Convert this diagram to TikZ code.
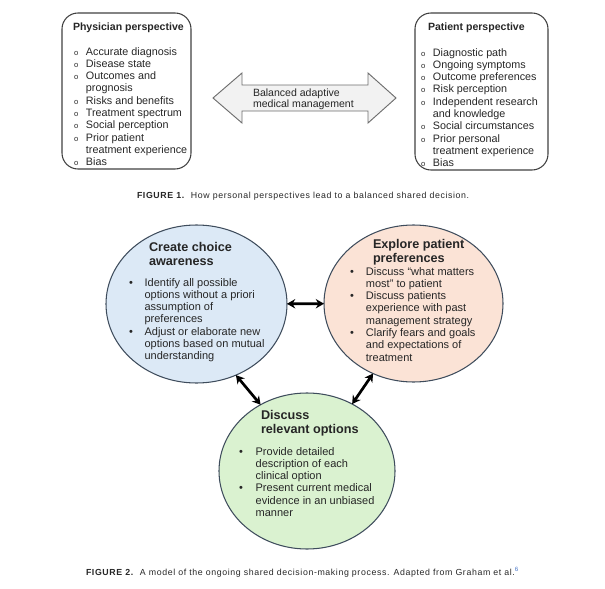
\documentclass[tikz,border=0pt]{standalone}
\usepackage{fontspec}
\setmainfont{Liberation Sans}
\newfontfamily\capfamily[LetterSpace=7]{Liberation Sans}
\usepackage{tikz}
\usetikzlibrary{arrows.meta,shapes.geometric}
\definecolor{boxline}{HTML}{404040}
\definecolor{bubbleline}{HTML}{3E4C5C}
\definecolor{awarefill}{HTML}{DCE9F6}
\definecolor{prefsfill}{HTML}{FBE3D6}
\definecolor{optsfill}{HTML}{DAF2D0}
\definecolor{arrowfill}{HTML}{F2F2F2}
\definecolor{arrowline}{HTML}{6E6E6E}
\definecolor{textdark}{HTML}{262626}
\definecolor{reflink}{HTML}{4472C4}
\newcommand{\pxu}{0.03cm}
\newcommand{\itemfont}{\fontsize{9.2}{10.5}\selectfont}
\newcommand{\bubfont}{\fontsize{9.4}{10.5}\selectfont}
\newcommand{\headfont}{\fontsize{10.8}{12.8}\selectfont\bfseries}
\newcommand{\capfont}{\capfamily\fontsize{7.5}{8}\selectfont}
\newcommand{\hollow}{{\fontsize{6.5}{6.5}\selectfont o}}

\begin{document}
\begin{tikzpicture}[x=\pxu,y=-\pxu]
\tikzstyle{every node}+=[inner sep=0pt, outer sep=0pt, text=textdark]
\tikzstyle{persp}=[draw=boxline, line width=0.9pt, rounded corners=0.48cm]
\tikzstyle{bubble}=[ellipse, draw=bubbleline, line width=0.9pt]
\tikzstyle{twoway}=[line width=2.3pt, {Stealth[length=7pt,width=8pt]}-{Stealth[length=7pt,width=8pt]}]
\useasboundingbox (0,0) rectangle (605,589);
% figure 1
\node [persp, minimum width=129*\pxu, minimum height=156*\pxu] (physbox) at (126.5,91) {};
\node [persp, minimum width=133*\pxu, minimum height=157*\pxu] (patbox) at (481.5,91.5) {};
\node [anchor=base west] (phystitle) at (73,31) {\fontsize{9}{10}\selectfont\bfseries Physician perspective};
\node [anchor=base west] (pattitle) at (428,31) {\fontsize{9}{10}\selectfont\bfseries Patient perspective};
\node [anchor=base west] (physlist) at (74,55) {\itemfont\begin{tabular}[t]{@{}p{10.2pt}@{}l@{}}
\hollow & Accurate diagnosis\\
\hollow & Disease state\\
\hollow & Outcomes and\\
 & prognosis\\
\hollow & Risks and benefits\\
\hollow & Treatment spectrum\\
\hollow & Social perception\\
\hollow & Prior patient\\
 & treatment experience\\
\hollow & Bias
\end{tabular}};
\node [anchor=base west] (patlist) at (421,56) {\itemfont\begin{tabular}[t]{@{}p{10.2pt}@{}l@{}}
\hollow & Diagnostic path\\
\hollow & Ongoing symptoms\\
\hollow & Outcome preferences\\
\hollow & Risk perception\\
\hollow & Independent research\\
 & and knowledge\\
\hollow & Social circumstances\\
\hollow & Prior personal\\
 & treatment experience\\
\hollow & Bias
\end{tabular}};
\draw [draw=arrowline, fill=arrowfill, line width=0.8pt] (213,98) -- (242,73) -- (242,85) -- (368,85) -- (368,73) -- (396,98) -- (368,123) -- (368,111) -- (242,111) -- (242,123) -- cycle;
\node [anchor=base west] (balance) at (253,96) {\fontsize{9}{9.4}\selectfont\begin{tabular}[t]{@{}l@{}}
Balanced adaptive\\
medical management
\end{tabular}};
\node [anchor=base west] (cap1) at (137,198) {\capfont\textbf{FIGURE 1.}\ \ How personal perspectives lead to a balanced shared decision.};
% figure 2
\node [bubble, fill=awarefill, minimum width=181*\pxu, minimum height=158*\pxu] (aware) at (196.5,304) {};
\node [bubble, fill=prefsfill, minimum width=179*\pxu, minimum height=157*\pxu] (prefs) at (413.5,303.5) {};
\node [bubble, fill=optsfill, minimum width=176*\pxu, minimum height=156*\pxu] (options) at (307,471) {};
\node [anchor=base west] (awarehead) at (149,251) {\headfont\begin{tabular}[t]{@{}l@{}}
Create choice\\
awareness
\end{tabular}};
\node [anchor=base west] (awarelist) at (129,286) {\bubfont\begin{tabular}[t]{@{}p{13.3pt}@{}l@{}}
\textbullet & Identify all possible\\
 & options without a priori\\
 & assumption of\\
 & preferences\\
\textbullet & Adjust or elaborate new\\
 & options based on mutual\\
 & understanding
\end{tabular}};
\node [anchor=base west] (prefshead) at (373,248) {\headfont\begin{tabular}[t]{@{}l@{}}
Explore patient\\
preferences
\end{tabular}};
\node [anchor=base west] (prefslist) at (350,275) {\bubfont\begin{tabular}[t]{@{}p{13.6pt}@{}l@{}}
\textbullet & Discuss ``what matters\\
 & most'' to patient\\
\textbullet & Discuss patients\\
 & experience with past\\
 & management strategy\\
\textbullet & Clarify fears and goals\\
 & and expectations of\\
 & treatment
\end{tabular}};
\node [anchor=base west] (optshead) at (261,419) {\headfont\begin{tabular}[t]{@{}l@{}}
Discuss\\
relevant options
\end{tabular}};
\node [anchor=base west] (optslist) at (239,455) {\bubfont\begin{tabular}[t]{@{}p{14.2pt}@{}l@{}}
\textbullet & Provide detailed\\
 & description of each\\
 & clinical option\\
\textbullet & Present current medical\\
 & evidence in an unbiased\\
 & manner
\end{tabular}};
\draw [twoway] (aware) -- (prefs);
\draw [twoway] (aware.299) -- (options.125);
\draw [twoway] (prefs.240) -- (options.56);
\node [anchor=base west] (cap2) at (86,575) {\capfont\textbf{FIGURE 2.}\ \ A model of the ongoing shared decision-making process. Adapted from Graham et al.\textsuperscript{\textcolor{reflink}{6}}};
\end{tikzpicture}
\end{document}
